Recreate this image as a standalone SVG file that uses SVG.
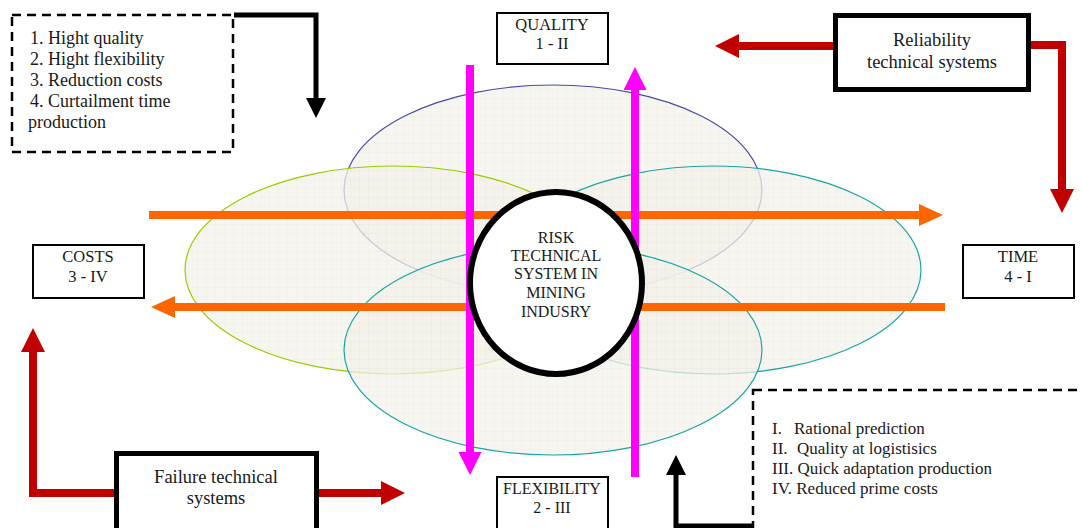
<svg xmlns="http://www.w3.org/2000/svg" width="1082" height="528" viewBox="0 0 1082 528">
<style>
text{font-family:"Liberation Serif","Times New Roman",serif;fill:#1a1a1a}
.box{fill:#fff;stroke:#000;stroke-width:2}
.bbox{fill:#fff;stroke:#000;stroke-width:5}
.dash{fill:none;stroke:#000;stroke-width:2.5;stroke-dasharray:9 6}
.ell{fill:url(#grid);fill-opacity:0.75;stroke-width:1.2}
.red{fill:none;stroke:#c00000;stroke-width:8}
.blk{fill:none;stroke:#000;stroke-width:5}
.org{fill:none;stroke:#ff6600;stroke-width:8}
.mag{fill:none;stroke:#ff00ff;stroke-width:8}
.c{text-anchor:middle}
</style>
<defs>
<pattern id="grid" width="9" height="9" patternUnits="userSpaceOnUse">
<rect width="9" height="9" fill="#f3f1ea"/>
<path d="M9 0V9H0" fill="none" stroke="#e2e0d6" stroke-width="0.6"/>
</pattern>
<marker id="hRed" markerUnits="userSpaceOnUse" markerWidth="26" markerHeight="26" refX="2" refY="12" orient="auto"><path d="M0,0L24,12L0,24z" fill="#c00000"/></marker>
<marker id="hBlk" markerUnits="userSpaceOnUse" markerWidth="22" markerHeight="22" refX="2" refY="10" orient="auto"><path d="M0,0L20,10L0,20z" fill="#000"/></marker>
<marker id="hOrg" markerUnits="userSpaceOnUse" markerWidth="26" markerHeight="24" refX="2" refY="11" orient="auto"><path d="M0,0L24,11L0,22z" fill="#ff6600"/></marker>
<marker id="hMag" markerUnits="userSpaceOnUse" markerWidth="26" markerHeight="26" refX="2" refY="11.5" orient="auto"><path d="M0,0L23,11.5L0,23z" fill="#ff00ff"/></marker>
</defs>
<rect width="1082" height="528" fill="#fff"/>

<g id="ellipses">
<ellipse class="ell" cx="553" cy="190" rx="209" ry="105" stroke="#4a4aa8"/>
<ellipse class="ell" cx="393" cy="270" rx="208" ry="104" stroke="#99cc00"/>
<ellipse class="ell" cx="713" cy="270" rx="208" ry="104" stroke="#1aa5a5"/>
<ellipse class="ell" cx="553" cy="350" rx="209" ry="105" stroke="#1aa5a5"/>
</g>

<g id="connectors">
<path class="org" d="M149,215H921" marker-end="url(#hOrg)"/>
<path class="org" d="M945,307H173" marker-end="url(#hOrg)"/>
<path class="mag" d="M470,65V454" marker-end="url(#hMag)"/>
<path class="mag" d="M635,477V88" marker-end="url(#hMag)"/>
<path class="red" d="M833,46H737" marker-end="url(#hRed)"/>
<path class="red" d="M1031,45H1062V191" marker-end="url(#hRed)"/>
<path class="red" d="M114,493H33V350" marker-end="url(#hRed)"/>
<path class="red" d="M319,493H383" marker-end="url(#hRed)"/>
<path class="blk" d="M234,15H316V100" marker-end="url(#hBlk)"/>
<path class="blk" d="M753,526H676V473" marker-end="url(#hBlk)"/>
</g>

<g id="center">
<ellipse cx="556" cy="283" rx="86" ry="91" fill="#fff" stroke="#000" stroke-width="6"/>
<text class="c" font-size="16"><tspan x="556" y="243">RISK</tspan><tspan x="556" y="261">TECHNICAL</tspan><tspan x="556" y="279">SYSTEM IN</tspan><tspan x="556" y="298">MINING</tspan><tspan x="556" y="317">INDUSRY</tspan></text>
</g>

<g id="quality">
<rect class="box" x="497" y="13" width="111" height="51"/>
<text class="c" font-size="16.5"><tspan x="552" y="30">QUALITY</tspan><tspan x="552" y="49">1 - II</tspan></text>
</g>

<g id="flexibility">
<rect class="box" x="497" y="477" width="111" height="60"/>
<text class="c" font-size="16"><tspan x="552" y="494">FLEXIBILITY</tspan><tspan x="552" y="513">2 - III</tspan></text>
</g>

<g id="costs">
<rect class="box" x="33" y="245" width="111" height="53"/>
<text class="c" font-size="16.5"><tspan x="88" y="262">COSTS</tspan><tspan x="88" y="282">3 - IV</tspan></text>
</g>

<g id="time">
<rect class="box" x="963" y="245" width="111" height="53"/>
<text class="c" font-size="16.5"><tspan x="1018" y="262">TIME</tspan><tspan x="1018" y="282">4 - I</tspan></text>
</g>

<g id="reliability">
<rect class="bbox" x="835.5" y="15.5" width="193" height="74"/>
<text class="c" font-size="18.5"><tspan x="932" y="46">Reliability</tspan><tspan x="932" y="68">technical systems</tspan></text>
</g>

<g id="failure">
<rect class="bbox" x="116.5" y="453.5" width="200" height="90"/>
<text class="c" font-size="18.5"><tspan x="216" y="483">Failure technical</tspan><tspan x="216" y="504">systems</tspan></text>
</g>

<g id="goals">
<rect class="dash" x="12" y="15" width="221" height="137"/>
<text font-size="18"><tspan x="30" y="44">1. Hight quality</tspan><tspan x="30" y="65">2. Hight flexibility</tspan><tspan x="30" y="86">3. Reduction costs</tspan><tspan x="30" y="107">4. Curtailment time</tspan><tspan x="28" y="128">production</tspan></text>
</g>

<g id="legend">
<rect class="dash" x="753" y="390" width="340" height="150"/>
<text font-size="17"><tspan x="772" y="434">I.</tspan><tspan x="794" y="434">Rational prediction</tspan><tspan x="772" y="454">II.</tspan><tspan x="797" y="454">Quality at logistisics</tspan><tspan x="772" y="474">III. Quick adaptation production</tspan><tspan x="772" y="494">IV. Reduced prime costs</tspan></text>
</g>
</svg>
